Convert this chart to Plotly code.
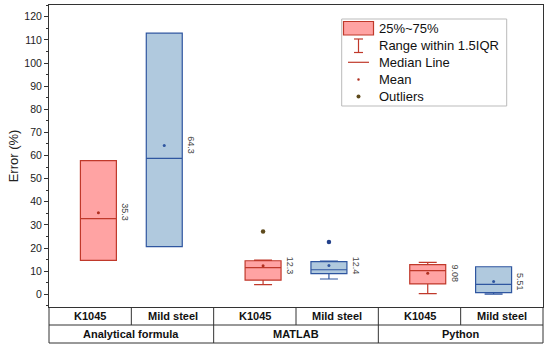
import plotly.graph_objects as go

# ---------------- data ----------------
groups = ["Analytical formula", "MATLAB", "Python"]
materials = ["K1045", "Mild steel"]

# per material: values for the three groups
k1045_q1 = [14.7, 6.1, 4.5]
k1045_median = [32.7, 11.5, 10.2]
k1045_q3 = [57.8, 14.5, 12.8]
k1045_lower = [14.7, 4.2, 0.3]
k1045_upper = [57.8, 14.8, 13.8]
k1045_mean = [35.3, 12.3, 9.08]
k1045_outlier_group = ["MATLAB"]
k1045_outlier_value = [27.2]

mild_q1 = [20.6, 8.9, 0.7]
mild_median = [58.8, 10.6, 4.3]
mild_q3 = [112.9, 14.1, 11.9]
mild_lower = [20.6, 6.6, 0.1]
mild_upper = [112.9, 14.4, 11.9]
mild_mean = [64.3, 12.4, 5.51]
mild_outlier_group = ["MATLAB"]
mild_outlier_value = [22.6]

legend_labels = ["25%~75%", "Range within 1.5IQR", "Median Line", "Mean", "Outliers"]

# ---------------- styling ----------------
FONT = "Liberation Sans, Arial, sans-serif"
RED_FILL = "#FFA3A3"
RED_LINE = "#C0392B"
RED_MEAN = "#B03020"
RED_OUT = "#5E4A1C"
BLUE_FILL = "#B0C9DE"
BLUE_LINE = "#2F56A0"
BLUE_MEAN = "#2F56A0"
BLUE_OUT = "#22408A"

BOX_W = 0.437
OFFSET = 0.4  # material offset within a group (x units)
XMAX = 6

W, H = 550, 351
ML, MR, MT, MB = 49, 7, 5, 44
PW, PH = W - ML - MR, H - MT - MB


def gx(i, j):
    return 2 * i + 1 + (-OFFSET if j == 0 else OFFSET)


def px2paper(xp, yp):
    return (xp - ML) / PW, (H - MB - yp) / PH


fig = go.Figure()

series = [
    (k1045_q1, k1045_median, k1045_q3, k1045_lower, k1045_upper, RED_FILL, RED_LINE),
    (mild_q1, mild_median, mild_q3, mild_lower, mild_upper, BLUE_FILL, BLUE_LINE),
]
for j, (q1, med, q3, lo, hi, fc, lc) in enumerate(series):
    fig.add_trace(go.Box(
        x=[gx(i, j) for i in range(len(groups))],
        q1=q1, median=med, q3=q3, lowerfence=lo, upperfence=hi,
        width=BOX_W, whiskerwidth=0.5, fillcolor=fc,
        line=dict(color=lc, width=1.2), boxpoints=False,
        hoverinfo="skip", showlegend=False,
    ))

annos = []
shapes = []
LINE_C = "#333"

# means
for j, (means, col) in enumerate([(k1045_mean, RED_MEAN), (mild_mean, BLUE_MEAN)]):
    fig.add_trace(go.Scatter(
        x=[gx(i, j) for i in range(len(groups))], y=means, mode="markers",
        marker=dict(size=3, color=col), showlegend=False, hoverinfo="skip"))
    for i, m in enumerate(means):
        annos.append(dict(
            x=gx(i, j) + BOX_W / 2, y=m, xref="x", yref="y",
            text=f"{m:g}", textangle=90, showarrow=False,
            xanchor="left", yanchor="middle", xshift=2,
            font=dict(family=FONT, size=9, color="#444")))

# outliers
for j, (og, ov, col) in enumerate([(k1045_outlier_group, k1045_outlier_value, RED_OUT),
                                   (mild_outlier_group, mild_outlier_value, BLUE_OUT)]):
    fig.add_trace(go.Scatter(
        x=[gx(groups.index(g), j) for g in og], y=ov, mode="markers",
        marker=dict(size=4.5, color=col), showlegend=False, hoverinfo="skip"))

# ---------- table under the plot ----------
r1 = -18 / PH
r2 = -36 / PH
for yy in (r1, r2):
    shapes.append(dict(type="line", xref="paper", yref="paper", x0=0, x1=1, y0=yy, y1=yy,
                       line=dict(color=LINE_C, width=1)))
for k in range(XMAX + 1):
    bottom = r2 if k % 2 == 0 else r1
    shapes.append(dict(type="line", xref="paper", yref="paper", x0=k / XMAX, x1=k / XMAX,
                       y0=0, y1=bottom, line=dict(color=LINE_C, width=1)))
for i, g in enumerate(groups):
    for j, m in enumerate(materials):
        annos.append(dict(x=(2 * i + j + 0.5) / XMAX, y=r1 / 2, xref="paper", yref="paper",
                          text=f"<b>{m}</b>", showarrow=False,
                          xanchor="center", yanchor="middle",
                          font=dict(family=FONT, size=11, color="#111")))
    annos.append(dict(x=(2 * i + 1) / XMAX, y=(r1 + r2) / 2, xref="paper", yref="paper",
                      text=f"<b>{g}</b>", showarrow=False,
                      xanchor="center", yanchor="middle",
                      font=dict(family=FONT, size=11, color="#111")))

# ---------- manual legend ----------
x0, y0 = px2paper(341.7, 19)
x1, y1 = px2paper(506.7, 106)
shapes.append(dict(type="rect", xref="paper", yref="paper", x0=x0, x1=x1, y0=y0, y1=y1,
                   line=dict(color="#BBBBBB", width=1), fillcolor="white", layer="above"))
rows_y = [28.3, 45.5, 62.3, 79.5, 96.5]
ax, ay = px2paper(343.5, 21.5)
bx, by = px2paper(373.5, 35)
shapes.append(dict(type="rect", xref="paper", yref="paper", x0=ax, x1=bx, y0=ay, y1=by,
                   line=dict(color=RED_LINE, width=1.2), fillcolor=RED_FILL, layer="above"))
cx = 358.5
for (xa, ya, xb, yb) in [(cx, 39, cx, 52.5), (cx - 4.5, 39, cx + 4.5, 39), (cx - 4.5, 52.5, cx + 4.5, 52.5),
                         (348, rows_y[2], 369, rows_y[2])]:
    p0 = px2paper(xa, ya)
    p1 = px2paper(xb, yb)
    shapes.append(dict(type="line", xref="paper", yref="paper", x0=p0[0], y0=p0[1], x1=p1[0], y1=p1[1],
                       line=dict(color=RED_LINE, width=1.2), layer="above"))
for yy, sz, col in [(rows_y[3], 2.5, RED_MEAN), (rows_y[4], 4, RED_OUT)]:
    pa = px2paper(cx - sz / 2, yy - sz / 2)
    pb = px2paper(cx + sz / 2, yy + sz / 2)
    shapes.append(dict(type="circle", xref="paper", yref="paper", x0=pa[0], y0=pa[1], x1=pb[0], y1=pb[1],
                       line=dict(width=0), fillcolor=col, layer="above"))
for lab, yy in zip(legend_labels, rows_y):
    px_, py_ = px2paper(377, yy)
    annos.append(dict(x=px_, y=py_, xref="paper", yref="paper", text=lab, showarrow=False,
                      xanchor="left", yanchor="middle", font=dict(family=FONT, size=13, color="#111")))

fig.update_layout(
    width=W, height=H,
    margin=dict(l=ML, r=MR, t=MT, b=MB, pad=0, autoexpand=False),
    paper_bgcolor="white", plot_bgcolor="white",
    boxmode="overlay", showlegend=False,
    font=dict(family=FONT, color="#222"),
)
fig.layout.shapes = shapes
fig.layout.annotations = annos
fig.update_xaxes(range=[0, XMAX], showticklabels=False, ticks="", showgrid=False, zeroline=False,
                 showline=True, mirror=True, linecolor=LINE_C, linewidth=1)
fig.update_yaxes(range=[-5.5, 125.1], tick0=0, dtick=10, ticks="outside", ticklen=4, tickwidth=1,
                 tickcolor=LINE_C, showgrid=False, zeroline=False,
                 showline=True, mirror=True, linecolor=LINE_C, linewidth=1,
                 tickfont=dict(family=FONT, size=10.5, color="#222"),
                 minor=dict(dtick=5, tick0=0, ticks="outside", ticklen=2.5, tickcolor=LINE_C),
                 title=dict(text="Error (%)", font=dict(family=FONT, size=13, color="#222"), standoff=2))

fig.write_html("out.html", config={"displayModeBar": False},
               post_script="document.body.style.margin='0';document.body.style.padding='0';")
